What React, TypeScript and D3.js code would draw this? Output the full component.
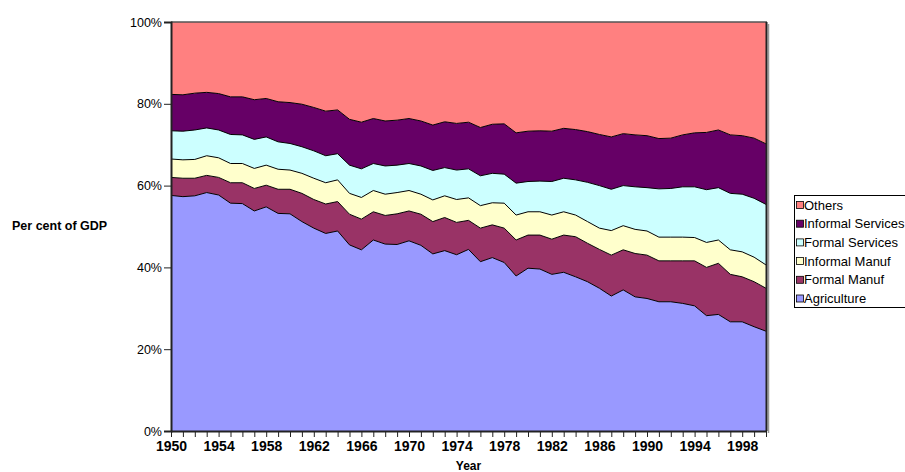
import React, { useEffect, useRef } from 'react';
import * as d3 from 'd3';

// Shares of GDP (%), 1950-2000
const years = d3.range(1950, 2001);

const agriculture = [
  57.6, 57.3, 57.5, 58.3, 57.7, 55.7, 55.6, 53.8, 54.8, 53.2,
  53.1, 51.2, 49.6, 48.3, 48.9, 45.5, 44.3, 46.7, 45.7, 45.6,
  46.5, 45.4, 43.3, 44.1, 43.1, 44.4, 41.4, 42.4, 41.2, 37.9,
  39.8, 39.6, 38.3, 38.8, 37.7, 36.5, 34.9, 33.0, 34.5, 32.8,
  32.4, 31.6, 31.6, 31.2, 30.6, 28.2, 28.5, 26.7, 26.7, 25.5, 24.4,
];
const formalManuf = [
  4.4, 4.5, 4.3, 4.2, 4.3, 5.0, 5.1, 5.5, 5.3, 5.9,
  6.0, 6.9, 7.0, 7.2, 7.2, 7.5, 7.5, 6.9, 7.0, 7.5,
  7.3, 7.6, 7.9, 8.1, 7.9, 7.1, 8.2, 8.0, 8.4, 8.8,
  8.1, 8.3, 8.6, 9.1, 9.8, 9.4, 9.5, 10.0, 9.8, 10.6,
  10.6, 10.0, 10.0, 10.4, 11.0, 11.8, 12.5, 11.6, 11.0, 11.0, 10.5,
];
const informalManuf = [
  4.5, 4.5, 4.6, 4.8, 4.8, 4.7, 4.7, 4.9, 4.9, 4.9,
  4.7, 4.9, 5.2, 5.2, 5.3, 5.1, 5.3, 5.2, 5.2, 5.2,
  5.0, 4.9, 5.3, 5.3, 5.6, 5.5, 5.5, 5.4, 6.1, 6.1,
  5.7, 5.7, 5.9, 5.7, 5.3, 5.3, 5.2, 6.0, 5.9, 5.9,
  5.9, 5.8, 5.8, 5.8, 5.7, 6.1, 5.7, 6.0, 6.1, 6.0, 5.7,
];
const formalServices = [
  6.9, 7.0, 7.2, 6.8, 6.8, 7.1, 7.0, 7.1, 6.9, 6.7,
  6.5, 6.5, 6.7, 6.6, 6.4, 6.9, 7.0, 6.6, 6.9, 6.7,
  6.6, 6.9, 7.2, 6.9, 7.2, 7.1, 7.3, 7.2, 7.1, 7.8,
  7.4, 7.5, 8.2, 8.2, 8.6, 9.6, 10.4, 10.1, 9.8, 10.4,
  10.6, 11.8, 11.9, 12.3, 12.4, 12.9, 12.8, 13.8, 14.1, 14.4, 14.8,
];
const informalServices = [
  8.9, 8.9, 9.0, 8.7, 8.9, 9.2, 9.3, 9.7, 9.4, 9.8,
  10.0, 10.4, 10.6, 10.9, 10.7, 11.2, 11.4, 11.0, 11.0, 11.0,
  11.0, 11.0, 11.1, 11.2, 11.4, 11.4, 11.8, 12.0, 12.3, 12.3,
  12.3, 12.3, 12.3, 12.2, 12.3, 12.4, 12.5, 12.8, 12.7, 12.7,
  12.7, 12.3, 12.3, 12.7, 13.2, 14.0, 14.1, 14.3, 14.3, 14.7, 14.8,
];
const others = [
  17.7, 17.8, 17.4, 17.2, 17.5, 18.3, 18.3, 19.0, 18.7, 19.5,
  19.7, 20.1, 20.9, 21.8, 21.5, 23.8, 24.5, 23.6, 24.2, 24.0,
  23.6, 24.2, 25.2, 24.4, 24.8, 24.5, 25.8, 25.0, 24.9, 27.1,
  26.7, 26.6, 26.7, 26.0, 26.3, 26.8, 27.5, 28.1, 27.3, 27.6,
  27.8, 28.5, 28.4, 27.6, 27.1, 27.0, 26.4, 27.6, 27.8, 28.4, 29.8,
];

const seriesNames = ['Agriculture', 'Formal Manuf', 'Informal Manuf', 'Formal Services', 'Informal Services', 'Others'];
const seriesValues = [agriculture, formalManuf, informalManuf, formalServices, informalServices, others];
const seriesColors = ['#9999FF', '#993366', '#FFFFCC', '#CCFFFF', '#660066', '#FF8080'];
const yTicks = [0, 0.2, 0.4, 0.6, 0.8, 1];

const FONT = '"Liberation Sans", Arial, sans-serif';

const App: React.FC = () => {
  const ref = useRef<SVGSVGElement | null>(null);

  useEffect(() => {
    if (!ref.current) return;
    const root = d3.select(ref.current);
    root.selectAll('*').remove();

    const W = 905;
    const H = 472;
    const plot = { left: 171, right: 766, top: 22, bottom: 431 };

    root.attr('width', W).attr('height', H);

    // rows for the stack
    const rows = years.map((y, i) => {
      const r: Record<string, number> = { year: y };
      seriesNames.forEach((n, k) => { r[n] = seriesValues[k][i]; });
      return r;
    });

    const stack = d3.stack<Record<string, number>>()
      .keys(seriesNames)
      .offset(d3.stackOffsetExpand);
    const layers = stack(rows);

    const x = d3.scaleLinear().domain([1950, 2000]).range([plot.left, plot.right]);
    const y = d3.scaleLinear().domain([0, 1]).range([plot.bottom, plot.top]);

    const area = d3.area<d3.SeriesPoint<Record<string, number>>>()
      .x(d => x(d.data.year))
      .y0(d => y(d[0]))
      .y1(d => y(d[1]));

    const topLine = d3.line<d3.SeriesPoint<Record<string, number>>>()
      .x(d => x(d.data.year))
      .y(d => y(d[1]));

    const g = root.append('g');

    // plot background
    g.append('rect')
      .attr('x', plot.left).attr('y', plot.top)
      .attr('width', plot.right - plot.left).attr('height', plot.bottom - plot.top)
      .attr('fill', '#fff');

    layers.forEach((layer, k) => {
      g.append('path')
        .datum(layer)
        .attr('d', area)
        .attr('fill', seriesColors[k]);
    });
    // black outline along the top of each band
    layers.slice(0, -1).forEach(layer => {
      g.append('path')
        .datum(layer)
        .attr('d', topLine)
        .attr('fill', 'none')
        .attr('stroke', '#000')
        .attr('stroke-width', 1);
    });

    // plot frame
    g.append('line')
      .attr('x1', plot.left).attr('x2', plot.right + 1)
      .attr('y1', plot.top).attr('y2', plot.top)
      .attr('stroke', '#555').attr('stroke-width', 1.5);
    g.append('line')
      .attr('x1', plot.right + 2.5).attr('x2', plot.right + 2.5)
      .attr('y1', plot.top + 2).attr('y2', plot.bottom + 2)
      .attr('stroke', '#999').attr('stroke-width', 1.5);
    g.append('line')
      .attr('x1', plot.right + 0.5).attr('x2', plot.right + 0.5)
      .attr('y1', plot.top).attr('y2', plot.bottom)
      .attr('stroke', '#222').attr('stroke-width', 2);

    // y axis
    const yAxis = d3.axisLeft(y)
      .tickValues(yTicks)
      .tickSize(7)
      .tickPadding(2)
      .tickFormat(d3.format('.0%'));
    const yg = g.append('g')
      .attr('transform', `translate(${plot.left},0)`)
      .call(yAxis);
    yg.select('.domain').attr('stroke', '#222').attr('stroke-width', 2);
    yg.selectAll('.tick line').attr('stroke', '#222');
    yg.selectAll('text')
      .attr('font-family', FONT)
      .attr('font-size', 12.5)
      .attr('fill', '#000');

    // x axis
    const xAxis = d3.axisBottom(x)
      .tickValues(years)
      .tickSize(6)
      .tickSizeOuter(0)
      .tickPadding(4)
      .tickFormat(d => ((+d - 1950) % 4 === 0 ? String(d) : ''));
    const xg = g.append('g')
      .attr('transform', `translate(0,${plot.bottom})`)
      .call(xAxis);
    xg.select('.domain').attr('stroke', '#222').attr('stroke-width', 2);
    xg.selectAll('.tick line').attr('stroke', '#222');
    xg.selectAll('text')
      .attr('font-family', FONT)
      .attr('font-size', 14)
      .attr('font-weight', 'bold')
      .attr('fill', '#000');

    // axis titles
    g.append('text')
      .attr('x', 12).attr('y', 230)
      .attr('font-family', FONT)
      .attr('font-size', 12.5)
      .attr('font-weight', 'bold')
      .text('Per cent of GDP');

    g.append('text')
      .attr('x', (plot.left + plot.right) / 2).attr('y', 470)
      .attr('text-anchor', 'middle')
      .attr('font-family', FONT)
      .attr('font-size', 12)
      .attr('font-weight', 'bold')
      .text('Year');

    // legend (top to bottom: Others ... Agriculture)
    const legend = g.append('g').attr('transform', 'translate(794,195)');
    legend.append('rect')
      .attr('x', 0.5).attr('y', 0.5)
      .attr('width', 130).attr('height', 112)
      .attr('fill', '#fff').attr('stroke', '#000');
    const order = seriesNames.map((n, k) => ({ n, c: seriesColors[k] })).reverse();
    order.forEach((s, i) => {
      const cy = 10 + i * 18.7;
      legend.append('rect')
        .attr('x', 2.5).attr('y', cy - 3.5)
        .attr('width', 7).attr('height', 7)
        .attr('fill', s.c).attr('stroke', '#000').attr('stroke-width', 0.8);
      legend.append('text')
        .attr('x', 10).attr('y', cy)
        .attr('dy', '0.36em')
        .attr('font-family', FONT)
        .attr('font-size', 13)
        .text(s.n);
    });
  }, []);

  return (
    <svg ref={ref} style={{ position: 'absolute', left: 0, top: 0, background: '#fff' }}></svg>
  );
};

export default App;
